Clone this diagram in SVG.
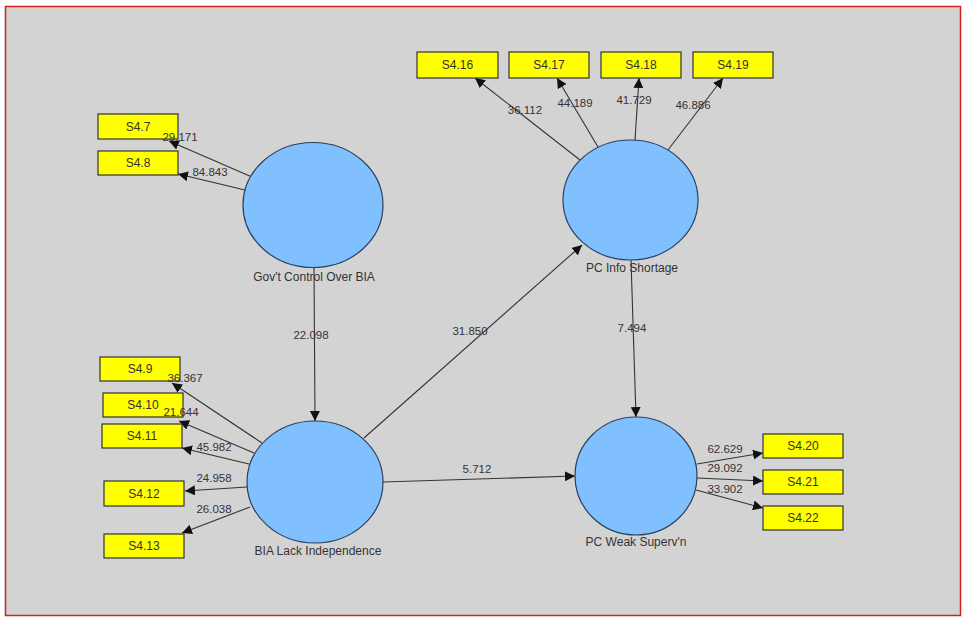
<svg xmlns="http://www.w3.org/2000/svg" width="965" height="619" viewBox="0 0 965 619">
<defs>
<marker id="ah" viewBox="0 0 10 10" refX="10" refY="5" markerWidth="10" markerHeight="10" markerUnits="userSpaceOnUse" orient="auto">
<path d="M0,0 L10,5 L0,10 z" fill="#111"/>
</marker>
</defs>
<style>
.bg{fill:#d3d3d3;stroke:#d42020;stroke-width:1.5}
.lv{fill:#80c0ff;stroke:#2a3f5f;stroke-width:1.2}
.mv{fill:#ffff00;stroke:#333;stroke-width:1.2}
.t{font-family:"Liberation Sans",Arial,sans-serif;font-size:11.5px;fill:#333}
.n{font-size:12px}
.c{text-anchor:middle}
.e{stroke:#333;stroke-width:1.1;fill:none;marker-end:url(#ah)}
</style>
<rect class="bg" x="5.5" y="6.5" width="955" height="609"/>
<g id="connectors">
<line class="e" x1="252" y1="177" x2="169" y2="141"/>
<line class="e" x1="245" y1="190" x2="178" y2="174"/>
<line class="e" x1="580" y1="160" x2="475" y2="78"/>
<line class="e" x1="598" y1="147" x2="557" y2="78"/>
<line class="e" x1="635" y1="140" x2="639" y2="78"/>
<line class="e" x1="668" y1="150" x2="723" y2="78"/>
<line class="e" x1="262" y1="443" x2="172" y2="383"/>
<line class="e" x1="254" y1="453" x2="179" y2="421"/>
<line class="e" x1="249" y1="464" x2="182" y2="448"/>
<line class="e" x1="247" y1="487" x2="185" y2="491"/>
<line class="e" x1="250" y1="507" x2="182" y2="533"/>
<line class="e" x1="697" y1="464" x2="763" y2="453"/>
<line class="e" x1="697" y1="478" x2="763" y2="481"/>
<line class="e" x1="696" y1="490" x2="763" y2="508"/>
<line class="e" x1="314" y1="268" x2="315" y2="421"/>
<line class="e" x1="364" y1="438" x2="582" y2="245"/>
<line class="e" x1="383" y1="482" x2="575" y2="476"/>
<line class="e" x1="631" y1="260" x2="636" y2="417"/>
</g>
<g id="lv-gov">
<ellipse class="lv" cx="313" cy="205" rx="70" ry="62.5"/>
<text class="t n c" x="314" y="281">Gov't Control Over BIA</text>
</g>
<g id="lv-bia">
<ellipse class="lv" cx="315" cy="482" rx="68" ry="61"/>
<text class="t n c" x="318" y="555">BIA Lack Independence</text>
</g>
<g id="lv-info">
<ellipse class="lv" cx="630.5" cy="200" rx="67.5" ry="60"/>
<text class="t n c" x="632" y="272">PC Info Shortage</text>
</g>
<g id="lv-weak">
<ellipse class="lv" cx="636" cy="476" rx="61" ry="59"/>
<text class="t n c" x="636" y="546">PC Weak Superv'n</text>
</g>
<g id="mv-s4-7"><rect class="mv" x="98" y="114" width="80" height="25"/><text class="t n c" x="138" y="131">S4.7</text></g>
<g id="mv-s4-8"><rect class="mv" x="98" y="151" width="80" height="24"/><text class="t n c" x="138" y="167">S4.8</text></g>
<g id="mv-s4-16"><rect class="mv" x="417" y="52" width="81" height="26"/><text class="t n c" x="457.5" y="69">S4.16</text></g>
<g id="mv-s4-17"><rect class="mv" x="509" y="52" width="80" height="26"/><text class="t n c" x="549" y="69">S4.17</text></g>
<g id="mv-s4-18"><rect class="mv" x="601" y="52" width="80" height="26"/><text class="t n c" x="641" y="69">S4.18</text></g>
<g id="mv-s4-19"><rect class="mv" x="693" y="52" width="80" height="26"/><text class="t n c" x="733" y="69">S4.19</text></g>
<g id="mv-s4-9"><rect class="mv" x="100" y="357" width="80" height="24"/><text class="t n c" x="140" y="373">S4.9</text></g>
<g id="mv-s4-10"><rect class="mv" x="103" y="393" width="80" height="24"/><text class="t n c" x="143" y="409">S4.10</text></g>
<g id="mv-s4-11"><rect class="mv" x="102" y="424" width="80" height="24"/><text class="t n c" x="142" y="440">S4.11</text></g>
<g id="mv-s4-12"><rect class="mv" x="104" y="481" width="80" height="25"/><text class="t n c" x="144" y="498">S4.12</text></g>
<g id="mv-s4-13"><rect class="mv" x="104" y="534" width="80" height="24"/><text class="t n c" x="144" y="550">S4.13</text></g>
<g id="mv-s4-20"><rect class="mv" x="763" y="434" width="80" height="24"/><text class="t n c" x="803" y="450">S4.20</text></g>
<g id="mv-s4-21"><rect class="mv" x="763" y="470" width="80" height="24"/><text class="t n c" x="803" y="486">S4.21</text></g>
<g id="mv-s4-22"><rect class="mv" x="763" y="506" width="80" height="24"/><text class="t n c" x="803" y="522">S4.22</text></g>
<g id="connector-labels" class="t c">
<text x="180" y="141">29.171</text>
<text x="210" y="176">84.843</text>
<text x="525" y="114">36.112</text>
<text x="575" y="107">44.189</text>
<text x="634" y="104">41.729</text>
<text x="693" y="109">46.886</text>
<text x="185" y="382">36.367</text>
<text x="181" y="416">21.644</text>
<text x="214" y="451">45.982</text>
<text x="214" y="482">24.958</text>
<text x="214" y="513">26.038</text>
<text x="725" y="453">62.629</text>
<text x="725" y="472">29.092</text>
<text x="725" y="493">33.902</text>
<text x="311" y="339">22.098</text>
<text x="470" y="335">31.850</text>
<text x="477" y="473">5.712</text>
<text x="632" y="332">7.494</text>
</g>
</svg>
